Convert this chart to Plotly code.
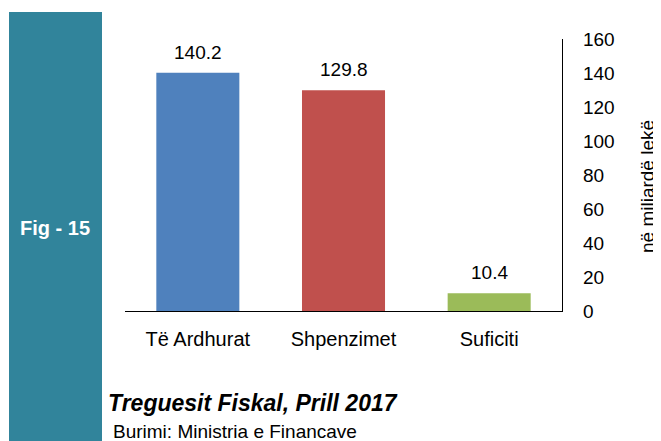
import plotly.graph_objects as go

categories = ["Të Ardhurat", "Shpenzimet", "Suficiti"]
values = [140.2, 129.8, 10.4]
colors = ["#4F81BD", "#C0504D", "#9BBB59"]
label_texts = ["140.2", "129.8", "10.4"]
y_ticks = [0, 20, 40, 60, 80, 100, 120, 140, 160]

# the page body has an 8px margin, so the figure is drawn 8px smaller
OFF = 8
W, H = 661 - OFF, 441 - OFF
L, T = 125 - OFF, 39 - OFF
R = W - (562 - OFF)
B = H - (311 - OFF)
PW, PH = W - L - R, H - T - B

def px_x(x):
    return (x - OFF - L) / PW

def px_y(y):
    return (H - B - (y - OFF)) / PH

FONT = "Liberation Sans, Arial, sans-serif"

fig = go.Figure()
fig.add_trace(go.Bar(
    x=categories, y=values, marker_color=colors, marker_line_width=0,
    width=0.57, showlegend=False, hoverinfo="skip",
))

for c, v, t in zip(categories, values, label_texts):
    fig.add_annotation(x=c, y=v, text=t, showarrow=False, xref="x", yref="y",
                       yanchor="bottom", yshift=8,
                       font=dict(family=FONT, size=19, color="#000000"))

# teal band
fig.add_shape(type="rect", xref="paper", yref="paper",
              x0=px_x(9), x1=px_x(102), y0=px_y(445), y1=px_y(12),
              fillcolor="#31849B", line_width=0, layer="below")

fig.add_annotation(xref="paper", yref="paper", x=px_x(55), y=px_y(228),
                   text="<b>Fig - 15</b>", showarrow=False,
                   xanchor="center", yanchor="middle",
                   font=dict(family=FONT, size=20, color="#FFFFFF"))

fig.add_annotation(xref="paper", yref="paper", x=px_x(106), y=px_y(403),
                   text="<b><i>Treguesit Fiskal, Prill 2017</i></b>", showarrow=False,
                   xanchor="left", yanchor="middle",
                   font=dict(family=FONT, size=23, color="#000000"))

fig.add_annotation(xref="paper", yref="paper", x=px_x(111), y=px_y(431),
                   text="Burimi: Ministria e Financave", showarrow=False,
                   xanchor="left", yanchor="middle",
                   font=dict(family=FONT, size=19, color="#000000"))

fig.add_annotation(xref="paper", yref="paper", x=px_x(647), y=px_y(187),
                   text="në miliardë lekë", showarrow=False, textangle=-90,
                   xanchor="center", yanchor="middle", borderpad=0,
                   font=dict(family=FONT, size=19, color="#000000"))

fig.update_layout(
    width=W, height=H,
    margin=dict(l=L, r=R, t=T, b=B, pad=0),
    paper_bgcolor="#FFFFFF", plot_bgcolor="#FFFFFF",
    xaxis=dict(showline=True, linecolor="#000000", linewidth=1.2,
               ticks="", showgrid=False, zeroline=False,
               tickfont=dict(family=FONT, size=20, color="#000000"),
               ticklabelstandoff=10, fixedrange=True),
    yaxis=dict(side="right", range=[0, 160], tickvals=y_ticks,
               showline=True, linecolor="#000000", linewidth=1.2,
               ticks="", showgrid=False, zeroline=False,
               tickfont=dict(family=FONT, size=19, color="#000000"),
               ticklabelstandoff=16, fixedrange=True),
)

fig.write_html("out.html", config={"displayModeBar": False})
